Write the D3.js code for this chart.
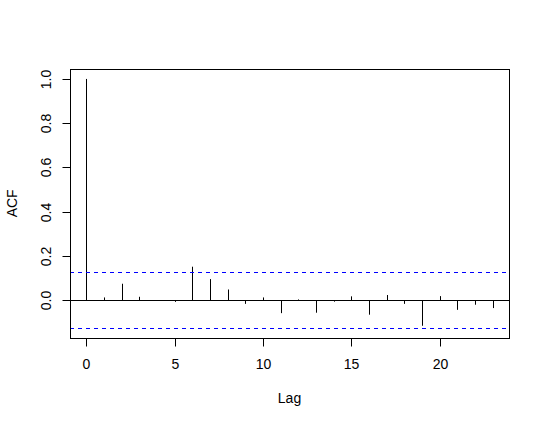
<!DOCTYPE html>
<html>
<head>
<meta charset="utf-8">
<script src="https://cdn.jsdelivr.net/npm/d3@7"></script>
<style>
  body { margin: 0; background: #fff; }
  svg text { font-family: "Liberation Sans", Arial, sans-serif; font-size: 14px; fill: #000; }
</style>
</head>
<body>
<svg width="545" height="425"></svg>
<script>
// autocorrelations, lag 0..23
var lags = d3.range(0, 24);
var acf = [1, 0.012, 0.074, 0.015, -0.002, -0.008, 0.151, 0.095, 0.048, -0.017,
           0.012, -0.059, 0.003, -0.057, -0.007, 0.017, -0.066, 0.023, -0.017, -0.116,
           0.018, -0.044, -0.021, -0.036];
var ci = 0.125;
var xTicks = [0, 5, 10, 15, 20];
var yTicks = [0, 0.2, 0.4, 0.6, 0.8, 1.0];

var svg = d3.select("svg"),
    plotL = 70, plotR = 509, plotT = 69, plotB = 337.7;

// R style 4% extension on both axes
var xlim = [0, 23], ylim = [-ci, 1];
var dx = (xlim[1] - xlim[0]) * 0.04, dy = (ylim[1] - ylim[0]) * 0.04;

var x = d3.scaleLinear().domain([xlim[0] - dx, xlim[1] + dx]).range([plotL, plotR]);
var y = d3.scaleLinear().domain([ylim[0] - dy, ylim[1] + dy]).range([plotB, plotT]);

function px(v) { return Math.round(v) + 0.5; }

// spikes
svg.append("g").selectAll("line")
    .data(lags)
  .enter().append("line")
    .attr("x1", function(d) { return px(x(d)); })
    .attr("x2", function(d) { return px(x(d)); })
    .attr("y1", y(0))
    .attr("y2", function(d) { return y(acf[d]); })
    .attr("stroke", "#000")
    .attr("stroke-width", 1);

// zero line
svg.append("line")
    .attr("x1", plotL).attr("x2", plotR)
    .attr("y1", px(y(0))).attr("y2", px(y(0)))
    .attr("stroke", "#000");

// confidence bounds
svg.append("g").selectAll("line")
    .data([ci, -ci])
  .enter().append("line")
    .attr("x1", plotL).attr("x2", plotR)
    .attr("y1", function(d) { return px(y(d)); })
    .attr("y2", function(d) { return px(y(d)); })
    .attr("stroke", "#0000ff")
    .attr("stroke-dasharray", "4,4");

// box
svg.append("rect")
    .attr("x", plotL + 0.5).attr("y", plotT + 0.5)
    .attr("width", Math.round(plotR - plotL)).attr("height", Math.round(plotB - plotT))
    .attr("fill", "none")
    .attr("stroke", "#000");

// x axis
var xAxis = d3.axisBottom(x)
    .tickValues(xTicks)
    .tickSize(8)
    .tickFormat(d3.format("d"));

svg.append("g")
    .attr("transform", "translate(0," + px(plotB) + ")")
    .call(xAxis)
    .call(function(g) { g.select(".domain").remove(); })
    .call(function(g) {
      g.attr("font-size", 14).attr("font-family", null);
      g.selectAll(".tick").each(function(d) {
        d3.select(this).attr("transform", "translate(" + px(x(d)) + ",0)");
      });
      g.selectAll("line").attr("stroke", "#000");
      g.selectAll("text").attr("dy", null)
        .attr("y", 369 - px(plotB));
    });

// y axis
var yAxis = d3.axisLeft(y)
    .tickValues(yTicks)
    .tickSize(8)
    .tickFormat(d3.format(".1f"));

svg.append("g")
    .attr("transform", "translate(" + (plotL + 0.5) + ",0)")
    .call(yAxis)
    .call(function(g) { g.select(".domain").remove(); })
    .call(function(g) {
      g.attr("font-size", 14).attr("font-family", null);
      g.selectAll(".tick").each(function(d) {
        d3.select(this).attr("transform", "translate(0," + px(y(d)) + ")");
      });
      g.selectAll("line").attr("stroke", "#000");
      g.selectAll("text")
        .attr("x", null).attr("dy", null)
        .attr("text-anchor", "middle")
        .attr("transform", "translate(" + (51 - plotL - 0.5) + ",0) rotate(-90)");
    });

// axis titles
svg.append("text")
    .attr("x", (plotL + plotR) / 2)
    .attr("y", 403)
    .attr("text-anchor", "middle")
    .text("Lag");

svg.append("text")
    .attr("transform", "translate(17," + (plotT + plotB) / 2 + ") rotate(-90)")
    .attr("text-anchor", "middle")
    .text("ACF");
</script>
</body>
</html>
